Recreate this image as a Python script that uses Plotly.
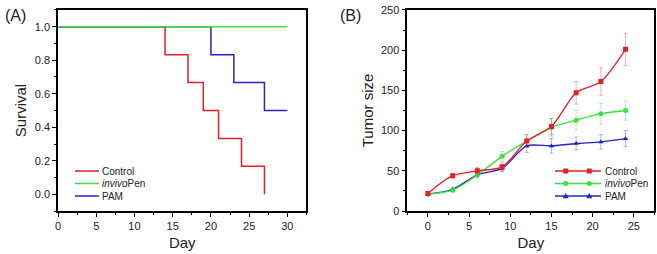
import plotly.graph_objects as go

# ---------------- data ----------------
# Panel A: survival (step curves)
ctrl_surv_day = [0, 14, 17, 19, 21, 24, 27]
ctrl_surv = [1.0, 0.833, 0.667, 0.5, 0.333, 0.167, 0.0]
pam_surv_day = [0, 20, 23, 27, 30]
pam_surv = [1.0, 0.833, 0.667, 0.5, 0.5]
pen_surv_day = [0, 30]
pen_surv = [1.0, 1.0]

# Panel B: tumor size
days = [0, 3, 6, 9, 12, 15, 18, 21, 24]
ctrl_size = [22, 44, 50, 55, 87, 105, 147, 161, 201]
ctrl_err = [2, 3, 4, 5, 8, 10, 14, 17, 20]
pen_size = [21, 26, 45, 68, 87, 104, 113, 121, 125]
pen_err = [2, 2, 4, 6, 8, 11, 12, 13, 12]
pam_size = [21, 27, 45, 53, 81, 81, 84, 86, 90]
pam_err = [2, 2, 3, 4, 8, 9, 8, 9, 10]

series_names = ["Control", "<i>invivo</i>Pen", "PAM"]

RED = "#e3202a"
GREEN = "#3ee03e"
BLUE = "#2424c4"
RED_E = "rgba(227,32,42,0.35)"
GREEN_E = "rgba(62,224,62,0.4)"
BLUE_E = "rgba(36,36,196,0.35)"
FONT = "Liberation Sans, Arial, sans-serif"

fig = go.Figure()

# Panel A
fig.add_trace(go.Scatter(x=ctrl_surv_day, y=ctrl_surv, mode="lines", line=dict(color=RED, width=1.5, shape="hv"),
                         xaxis="x", yaxis="y", showlegend=False))
fig.add_trace(go.Scatter(x=pam_surv_day, y=pam_surv, mode="lines", line=dict(color=BLUE, width=1.5, shape="hv"),
                         xaxis="x", yaxis="y", showlegend=False))
fig.add_trace(go.Scatter(x=pen_surv_day, y=pen_surv, mode="lines", line=dict(color=GREEN, width=1.5, shape="hv"),
                         xaxis="x", yaxis="y", showlegend=False))

# Panel B
def tumor(y, err, color, ecolor, symbol):
    return go.Scatter(x=days, y=y, mode="lines+markers", xaxis="x2", yaxis="y2", showlegend=False,
                      line=dict(color=color, width=1.3, shape="spline", smoothing=0.8),
                      marker=dict(color=color, size=5, symbol=symbol),
                      error_y=dict(type="data", array=err, visible=True, color=ecolor, thickness=1, width=2))

fig.add_trace(tumor(pam_size, pam_err, BLUE, BLUE_E, "triangle-up"))
fig.add_trace(tumor(pen_size, pen_err, GREEN, GREEN_E, "circle"))
fig.add_trace(tumor(ctrl_size, ctrl_err, RED, RED_E, "square"))

axis_common = dict(showgrid=False, zeroline=False, showline=True, linecolor="black", linewidth=1.6,
                   mirror=True, ticks="outside", ticklen=4, tickwidth=1.2, tickcolor="black", automargin=False,
                   tickfont=dict(family=FONT, size=11, color="#222"),
                   title_font=dict(family=FONT, size=15, color="#222"))

fig.update_layout(
    width=657, height=254, margin=dict(l=0, r=0, t=0, b=0),
    paper_bgcolor="white", plot_bgcolor="white",
    xaxis=dict(axis_common, domain=[0.0883, 0.4665], range=[0, 32.5], tickvals=[0, 5, 10, 15, 20, 25, 30],
               minor=dict(dtick=2.5, tick0=0, ticks="outside", ticklen=2.5, tickcolor="black"),
               title=dict(text="Day", standoff=6), anchor="y"),
    yaxis=dict(axis_common, domain=[0.169, 0.961], range=[-0.1, 1.1], tickvals=[0, 0.2, 0.4, 0.6, 0.8, 1.0],
               tickformat=".1f", minor=dict(dtick=0.1, tick0=0, ticks="outside", ticklen=2.5, tickcolor="black"),
               title=dict(text="Survival", standoff=4), anchor="x"),
    xaxis2=dict(axis_common, domain=[0.62, 0.996], range=[-2.5, 27.5], tickvals=[0, 5, 10, 15, 20, 25],
                minor=dict(dtick=2.5, tick0=0, ticks="outside", ticklen=2.5, tickcolor="black"),
                title=dict(text="Day", standoff=6), anchor="y2"),
    yaxis2=dict(axis_common, domain=[0.169, 0.961], range=[0, 250], tickvals=[0, 50, 100, 150, 200, 250],
                minor=dict(dtick=25, tick0=0, ticks="outside", ticklen=2.5, tickcolor="black"),
                title=dict(text="Tumor size", standoff=4), anchor="x2"),
)

W, H = 657.0, 254.0
def px(xp):
    return xp / W
def py(yp):
    return 1 - yp / H

annots = []
for label, xx in (("(A)", 3), ("(B)", 338)):
    annots.append(dict(x=px(xx), y=py(15), xref="paper", yref="paper", text=label, showarrow=False,
                       xanchor="left", yanchor="middle", font=dict(family=FONT, size=16, color="#222")))

shapes = []
rows_y = [171, 183.5, 196]
colors = [RED, GREEN, BLUE]
LEG_FONT = dict(family=FONT, size=10, color="#222")
# Legend A
for name, c, yy in zip(series_names, colors, rows_y):
    shapes.append(dict(type="line", xref="paper", yref="paper", x0=px(75), x1=px(99), y0=py(yy), y1=py(yy),
                       line=dict(color=c, width=1.5)))
    annots.append(dict(x=px(100), y=py(yy), xref="paper", yref="paper", text=name, showarrow=False,
                       xanchor="left", yanchor="middle", font=LEG_FONT))
# Legend B
for i, (name, c, yy) in enumerate(zip(series_names, colors, rows_y)):
    shapes.append(dict(type="line", xref="paper", yref="paper", x0=px(555), x1=px(601), y0=py(yy), y1=py(yy),
                       line=dict(color=c, width=1.3)))
    for mx in (565.7, 589.3):
        if i == 0:
            shapes.append(dict(type="rect", xref="paper", yref="paper", x0=px(mx - 2.5), x1=px(mx + 2.5),
                               y0=py(yy + 2.5), y1=py(yy - 2.5), fillcolor=c, line=dict(width=0)))
        elif i == 1:
            shapes.append(dict(type="circle", xref="paper", yref="paper", x0=px(mx - 2.5), x1=px(mx + 2.5),
                               y0=py(yy + 2.5), y1=py(yy - 2.5), fillcolor=c, line=dict(width=0)))
        else:
            path = "M {},{} L {},{} L {},{} Z".format(px(mx - 3), py(yy + 2.2), px(mx + 3), py(yy + 2.2), px(mx), py(yy - 3))
            shapes.append(dict(type="path", xref="paper", yref="paper", path=path, fillcolor=c, line=dict(width=0)))
    annots.append(dict(x=px(603), y=py(yy), xref="paper", yref="paper", text=name, showarrow=False,
                       xanchor="left", yanchor="middle", font=LEG_FONT))

fig.update_layout(annotations=annots, shapes=shapes)

fig.write_html("out.html", config={"displayModeBar": False},
               post_script="document.body.style.margin='0';document.body.style.overflow='hidden';")
